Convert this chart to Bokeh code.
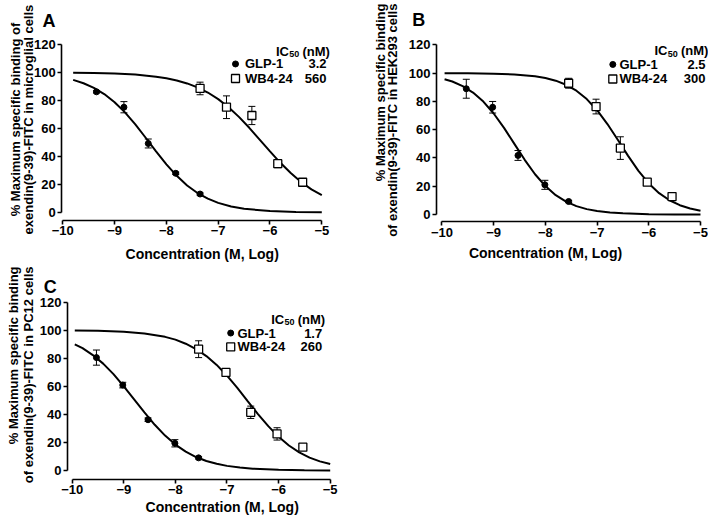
import numpy as np
from bokeh.plotting import figure
from bokeh.models import ColumnDataSource, Whisker, TeeHead, Label, FixedTicker, Range1d
from bokeh.layouts import column, row
from bokeh.embed import file_html
from bokeh.resources import INLINE

FONT = "Liberation Sans"

# ---------------- data ----------------
x_ticks = [-10, -9, -8, -7, -6, -5]
x_tick_labels = ["−10", "−9", "−8", "−7", "−6", "−5"]
y_ticks = [0, 20, 40, 60, 80, 100, 120]
series_names = ["GLP-1", "WB4-24"]
x_title = "Concentration (M, Log)"

# Panel A (microglial cells)
ic50_A = ["3.2", "560"]
glp_x_A = [-9.35, -8.82, -8.35, -7.82, -7.35]
glp_y_A = [86.2, 75.2, 49.3, 28.0, 13.2]
glp_e_A = [0.8, 4.0, 3.2, 0.8, 0.8]
wb_x_A = [-7.35, -6.84, -6.35, -5.85, -5.37]
wb_y_A = [88.6, 75.2, 69.3, 34.9, 21.6]
wb_e_A = [4.5, 8.1, 6.5, 2.9, 1.2]
glp_cx_A = [-9.8, -9.6, -9.4, -9.2, -9.0, -8.8, -8.6, -8.4, -8.2, -8.0, -7.8,
            -7.6, -7.4, -7.2, -7.0, -6.75, -6.5, -6.0, -5.5, -5.0]
glp_cy_A = [94.7, 92.3, 89.0, 84.6, 78.8, 71.5, 62.9, 53.4, 43.7, 34.4, 26.2,
            19.3, 13.9, 9.9, 6.9, 4.3, 2.7, 1.0, 0.4, 0.15]
wb_cx_A = [-9.8, -9.4, -9.0, -8.6, -8.2, -8.0, -7.8, -7.6, -7.4, -7.2, -7.0,
           -6.8, -6.6, -6.4, -6.2, -6.0, -5.8, -5.6, -5.4, -5.2, -5.0]
wb_cy_A = [99.8, 99.6, 99.2, 98.5, 97.0, 95.9, 94.3, 92.2, 89.4, 85.7, 81.0,
           75.2, 68.3, 60.5, 52.1, 43.7, 35.5, 28.2, 21.8, 16.5, 12.4]

# Panel B (HEK293 cells)
ic50_B = ["2.5", "300"]
glp_x_B = [-9.53, -9.02, -8.53, -8.01, -7.55]
glp_y_B = [89.0, 75.9, 41.8, 21.0, 9.2]
glp_e_B = [6.7, 4.1, 3.5, 3.2, 0.8]
wb_x_B = [-7.55, -7.02, -6.55, -6.03, -5.55]
wb_y_B = [92.9, 76.4, 47.0, 22.9, 12.7]
wb_e_B = [3.5, 5.2, 8.0, 1.5, 1.0]
glp_cx_B = [-9.95, -9.8, -9.6, -9.4, -9.2, -9.0, -8.8, -8.6, -8.4, -8.2, -8.0,
            -7.8, -7.6, -7.4, -7.2, -7.0, -6.75, -6.5, -6.0, -5.5, -5.0]
glp_cy_B = [95.7, 94.1, 90.9, 86.3, 79.9, 71.5, 61.3, 50.0, 38.7, 28.5, 20.1,
            13.7, 9.1, 5.9, 3.8, 2.5, 1.4, 0.8, 0.25, 0.08, 0.03]
wb_cx_B = [-9.95, -9.5, -9.0, -8.6, -8.2, -8.0, -7.8, -7.6, -7.4, -7.2, -7.0,
           -6.8, -6.6, -6.4, -6.2, -6.0, -5.8, -5.6, -5.4, -5.2, -5.0]
wb_cy_B = [99.96, 99.9, 99.6, 99.1, 97.8, 96.6, 94.7, 91.8, 87.6, 81.7, 73.8,
           64.0, 52.9, 41.5, 30.9, 22.0, 15.1, 10.1, 6.6, 4.3, 2.7]

# Panel C (PC12 cells)
ic50_C = ["1.7", "260"]
glp_x_C = [-9.53, -9.02, -8.53, -8.01, -7.55]
glp_y_C = [80.5, 60.9, 36.2, 19.4, 9.0]
glp_e_C = [5.4, 2.0, 1.2, 2.6, 0.8]
wb_x_C = [-7.55, -7.02, -6.54, -6.03, -5.53]
wb_y_C = [86.5, 69.9, 41.5, 26.1, 16.6]
wb_e_C = [6.0, 2.5, 4.4, 4.4, 2.0]
glp_cx_C = [-9.95, -9.8, -9.6, -9.4, -9.2, -9.0, -8.8, -8.6, -8.4, -8.2, -8.0,
            -7.8, -7.6, -7.4, -7.2, -7.0, -6.75, -6.5, -6.0, -5.5, -5.0]
glp_cy_C = [90.0, 87.2, 82.3, 76.2, 68.7, 60.0, 50.7, 41.4, 32.6, 24.9, 18.5,
            13.5, 9.6, 6.8, 4.8, 3.3, 2.1, 1.3, 0.5, 0.2, 0.08]
wb_cx_C = [-9.95, -9.5, -9.0, -8.6, -8.2, -8.0, -7.8, -7.6, -7.4, -7.2, -7.0,
           -6.8, -6.6, -6.4, -6.2, -6.0, -5.8, -5.6, -5.4, -5.2, -5.0]
wb_cy_C = [99.8, 99.6, 98.9, 97.7, 95.3, 93.3, 90.4, 86.6, 81.6, 75.3, 67.6,
           58.9, 49.5, 40.2, 31.6, 24.0, 17.8, 12.9, 9.2, 6.5, 4.6]

ylabel_A = ["% Maximum specific binding of", "exendin(9-39)-FITC in microglial cells"]
ylabel_B = ["% Maximum specific binding", "of exendin(9-39)-FITC in HEK293 cells"]
ylabel_C = ["% Maximum specific binding", "of exendin(9-39)-FITC in PC12 cells"]

# ---------------- layout / style (positions, not data) ----------------
# Each figure's frame covers its whole canvas; axes are pinned with fixed_location.
LAY_A = dict(w=355, h=262, xr=(-11.2027, -4.3494), yr=(-35.71, 151.43),
             yaxis_at=-10.02, xaxis_at=-5.7,
             letter="A", letter_xy=(-10.392, 137.1),
             ylab_x=(-10.913, -10.662), ylab_y=66.4, ylab_align="center",
             title_xy=(-7.309, -29.6),
             ic_xy=(-5.884, 115.2), mk_x=-6.666, txt_x=-6.483, val_x=-4.909,
             rows_y=(106.1, 95.7))
LAY_B = dict(w=353, h=262, xr=(-11.673, -4.845), yr=(-33.97, 151.45),
             yaxis_at=-10.106, xaxis_at=-5.0,
             letter="B", letter_xy=(-10.576, 137.6),
             ylab_x=(-11.19, -10.957), ylab_y=149.3, ylab_align="right",
             title_xy=(-7.998, -27.6),
             ic_xy=(-5.890, 115.8), mk_x=-6.696, txt_x=-6.567, val_x=-4.903,
             rows_y=(106.2, 95.9))
LAY_C = dict(w=355, h=253, xr=(-11.3895, -4.5097), yr=(-32.09, 148.31),
             yaxis_at=-10.091, xaxis_at=-6.42,
             letter="C", letter_xy=(-10.55, 130.7),
             ylab_x=(-11.137, -10.847), ylab_y=145.5, ylab_align="right",
             title_xy=(-7.093, -26.0),
             ic_xy=(-6.143, 107.9), mk_x=-6.928, txt_x=-6.797, val_x=-5.155,
             rows_y=(98.0, 88.1))


def add_text(p, x, y, text, size, align="left", baseline="alphabetic",
             angle=0.0, x_offset=0, y_offset=0):
    p.add_layout(Label(x=x, y=y, text=text, text_font=FONT,
                       text_font_size=f"{size}px", text_font_style="bold",
                       text_color="black", text_align=align,
                       text_baseline=baseline, angle=angle,
                       x_offset=x_offset, y_offset=y_offset))


def add_errorbars(p, xs, ys, es):
    y = np.array(ys, dtype=float)
    e = np.array(es, dtype=float)
    src = ColumnDataSource(dict(x=list(xs), upper=list(y + e), lower=list(y - e)))
    w = Whisker(source=src, base="x", upper="upper", lower="lower",
                line_color="black", line_width=1,
                upper_head=TeeHead(size=7, line_color="black", line_width=1),
                lower_head=TeeHead(size=7, line_color="black", line_width=1),
                level="underlay")
    p.add_layout(w)


def make_panel(d, lay, ylab, ic50):
    p = figure(width=lay["w"], height=lay["h"],
               x_range=Range1d(*lay["xr"]), y_range=Range1d(*lay["yr"]),
               output_backend="svg", toolbar_location=None,
               min_border_left=0, min_border_right=0,
               min_border_top=0, min_border_bottom=0)
    p.outline_line_color = None
    p.xgrid.visible = False
    p.ygrid.visible = False
    p.background_fill_color = "white"
    p.border_fill_color = "white"
    for ax in (p.xaxis[0], p.yaxis[0]):
        ax.axis_line_width = 1.6
        ax.axis_line_color = "black"
        ax.major_tick_line_width = 1.6
        ax.major_tick_line_color = "black"
        ax.major_tick_out = 4
        ax.major_tick_in = 0
        ax.minor_tick_line_color = None
        ax.major_label_text_font = FONT
        ax.major_label_text_font_size = "13px"
        ax.major_label_text_font_style = "bold"
        ax.major_label_text_color = "black"
        ax.major_label_standoff = 2
    xa = p.xaxis[0]
    xa.ticker = FixedTicker(ticks=x_ticks)
    xa.major_label_overrides = {t: s for t, s in zip(x_ticks, x_tick_labels)}
    xa.bounds = (x_ticks[0], x_ticks[-1])
    xa.fixed_location = lay["xaxis_at"]
    ya = p.yaxis[0]
    ya.ticker = FixedTicker(ticks=y_ticks)
    ya.bounds = (y_ticks[0], y_ticks[-1])
    ya.fixed_location = lay["yaxis_at"]

    # fitted curves
    p.line(d["glp_cx"], d["glp_cy"], line_color="black", line_width=2)
    p.line(d["wb_cx"], d["wb_cy"], line_color="black", line_width=2)
    # error bars
    add_errorbars(p, d["glp_x"], d["glp_y"], d["glp_e"])
    add_errorbars(p, d["wb_x"], d["wb_y"], d["wb_e"])
    # points
    p.scatter(d["glp_x"], d["glp_y"], marker="circle", size=6,
              fill_color="black", line_color="black")
    p.scatter(d["wb_x"], d["wb_y"], marker="square", size=8,
              fill_color="white", line_color="black", line_width=1.3)

    # legend block
    icx, icy = lay["ic_xy"]
    add_text(p, icx, icy, "IC", 13)
    add_text(p, icx, icy, "50", 9, x_offset=13.2, y_offset=-3)
    add_text(p, icx, icy, "(nM)", 13, x_offset=26.5)
    r1, r2 = lay["rows_y"]
    p.scatter([lay["mk_x"]], [r1], marker="circle", size=6,
              fill_color="black", line_color="black")
    p.scatter([lay["mk_x"]], [r2], marker="square", size=8,
              fill_color="white", line_color="black", line_width=1.3)
    for ry, name, val in zip((r1, r2), series_names, ic50):
        add_text(p, lay["txt_x"], ry, name, 13, baseline="middle")
        add_text(p, lay["val_x"], ry, val, 13, align="right", baseline="middle")

    # y label (two lines), panel letter, x title
    for lx, txt in zip(lay["ylab_x"], ylab):
        add_text(p, lx, lay["ylab_y"], txt, 13, align=lay["ylab_align"],
                 baseline="middle", angle=np.pi / 2)
    add_text(p, lay["letter_xy"][0], lay["letter_xy"][1], lay["letter"], 18)
    add_text(p, lay["title_xy"][0], lay["title_xy"][1], x_title, 14,
             align="center")
    return p


dA = dict(glp_x=glp_x_A, glp_y=glp_y_A, glp_e=glp_e_A, wb_x=wb_x_A, wb_y=wb_y_A,
          wb_e=wb_e_A, glp_cx=glp_cx_A, glp_cy=glp_cy_A, wb_cx=wb_cx_A, wb_cy=wb_cy_A)
dB = dict(glp_x=glp_x_B, glp_y=glp_y_B, glp_e=glp_e_B, wb_x=wb_x_B, wb_y=wb_y_B,
          wb_e=wb_e_B, glp_cx=glp_cx_B, glp_cy=glp_cy_B, wb_cx=wb_cx_B, wb_cy=wb_cy_B)
dC = dict(glp_x=glp_x_C, glp_y=glp_y_C, glp_e=glp_e_C, wb_x=wb_x_C, wb_y=wb_y_C,
          wb_e=wb_e_C, glp_cx=glp_cx_C, glp_cy=glp_cy_C, wb_cx=wb_cx_C, wb_cy=wb_cy_C)

pA = make_panel(dA, LAY_A, ylabel_A, ic50_A)
pB = make_panel(dB, LAY_B, ylabel_B, ic50_B)
pC = make_panel(dC, LAY_C, ylabel_C, ic50_C)

layout = column(row(pA, pB), pC)
open("out.html", "w").write(file_html(layout, INLINE))
